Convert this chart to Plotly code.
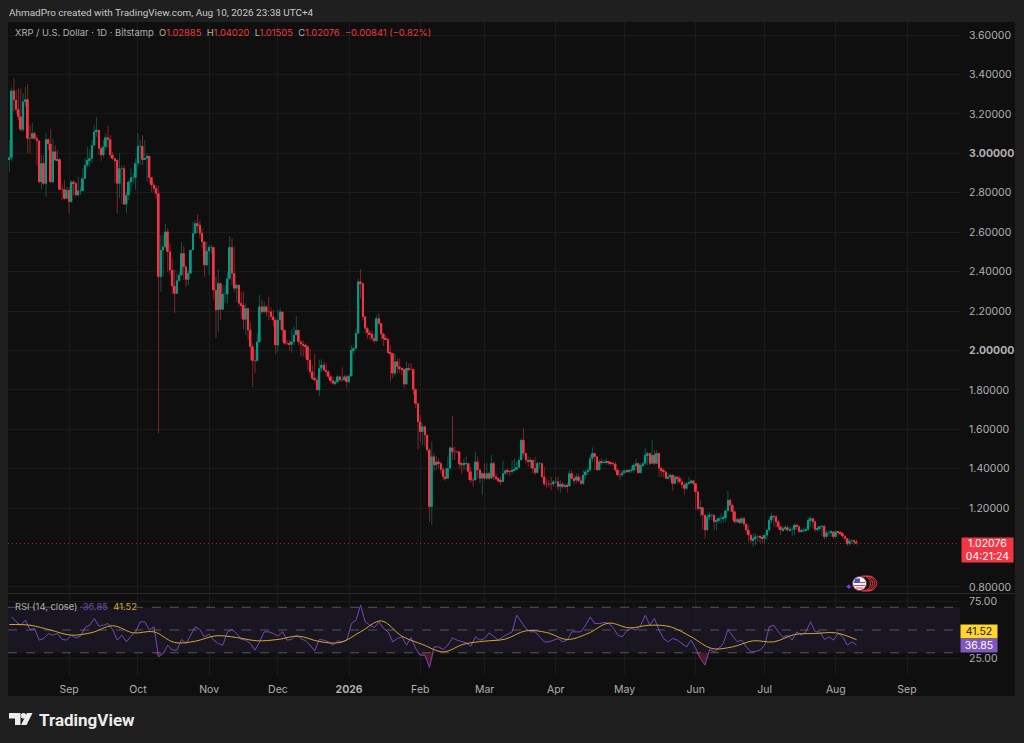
import pandas as pd
import plotly.graph_objects as go

# XRP / USD daily candles (Aug 2025 - Aug 2026)
closes = [
    2.979, 3.317, 3.270, 3.222, 3.185, 3.121, 3.261, 3.273, 3.075, 3.075, 3.101, 3.075, 3.063, 2.855, 2.949, 2.847,
    3.070, 3.047, 2.855, 3.008, 2.965, 2.969, 2.817, 2.817, 2.771, 2.813, 2.754, 2.855, 2.847, 2.788, 2.810, 2.810,
    2.872, 2.940, 2.965, 2.974, 3.041, 3.109, 3.118, 3.025, 2.991, 3.033, 3.080, 3.070, 2.991, 2.974, 2.965, 2.847,
    2.923, 2.923, 2.742, 2.788, 2.855, 2.877, 2.877, 2.949, 3.036, 3.036, 2.969, 2.974, 2.986, 2.877, 2.839, 2.822, 2.796,
    2.374, 2.509, 2.526, 2.602, 2.501, 2.408, 2.327, 2.289, 2.354, 2.382, 2.492, 2.425, 2.360, 2.391, 2.509, 2.594,
    2.644, 2.636, 2.594, 2.551, 2.433, 2.504, 2.523, 2.523, 2.306, 2.205, 2.340, 2.208, 2.286, 2.286, 2.365, 2.523,
    2.391, 2.315, 2.332, 2.239, 2.230, 2.157, 2.213, 2.103, 2.019, 1.948, 1.948, 2.044, 2.222, 2.196, 2.222, 2.196,
    2.196, 2.171, 2.154, 2.027, 2.154, 2.196, 2.103, 2.036, 2.036, 2.030, 2.044, 2.078, 2.103, 2.044, 2.032, 2.027,
    2.019, 1.951, 1.892, 1.858, 1.850, 1.799, 1.909, 1.926, 1.900, 1.892, 1.867, 1.846, 1.833, 1.841, 1.867, 1.850,
    1.850, 1.867, 1.841, 1.870, 2.002, 2.010, 2.086, 2.349, 2.340, 2.171, 2.112, 2.090, 2.083, 2.061, 2.049, 2.162,
    2.137, 2.083, 2.061, 2.056, 1.988, 1.985, 1.884, 1.943, 1.917, 1.909, 1.904, 1.829, 1.909, 1.904, 1.904, 1.802,
    1.731, 1.638, 1.588, 1.613, 1.571, 1.495, 1.207, 1.461,
    1.419, 1.435, 1.427, 1.396, 1.359, 1.351, 1.402, 1.506, 1.486, 1.486, 1.486, 1.424, 1.419, 1.424, 1.427, 1.385,
    1.342, 1.342, 1.435, 1.393, 1.351, 1.376, 1.351, 1.376, 1.351, 1.427, 1.359, 1.351, 1.342, 1.334, 1.376, 1.390,
    1.388, 1.385, 1.393, 1.396, 1.407, 1.444, 1.545, 1.478, 1.444, 1.435, 1.444, 1.402, 1.380, 1.427, 1.427, 1.359,
    1.322, 1.322, 1.322, 1.322, 1.334, 1.334, 1.309, 1.322, 1.309, 1.317, 1.312, 1.376, 1.351, 1.342, 1.359, 1.339,
    1.325, 1.368, 1.384, 1.393, 1.452, 1.478, 1.461, 1.393, 1.435, 1.430, 1.432, 1.435, 1.430, 1.427, 1.424, 1.393,
    1.368, 1.368, 1.379, 1.390, 1.384, 1.390, 1.393, 1.418, 1.427, 1.379, 1.418, 1.427, 1.469, 1.478, 1.427, 1.469,
    1.427, 1.478, 1.402, 1.393, 1.384, 1.351, 1.359, 1.368, 1.325, 1.359, 1.351, 1.334, 1.317, 1.300, 1.325, 1.329,
    1.339, 1.325, 1.283, 1.198, 1.203, 1.165, 1.089, 1.156, 1.165, 1.165, 1.131, 1.139, 1.148, 1.148, 1.150, 1.187,
    1.241, 1.215, 1.182, 1.131, 1.143, 1.126, 1.148, 1.119, 1.089, 1.063, 1.038, 1.046, 1.055, 1.055, 1.051, 1.046,
    1.063, 1.089, 1.139, 1.160, 1.156, 1.131, 1.105, 1.089, 1.097, 1.102, 1.089,
    1.092, 1.092, 1.114, 1.106, 1.080, 1.085, 1.089, 1.092, 1.139, 1.148, 1.131, 1.092, 1.097, 1.106, 1.109, 1.055,
    1.075, 1.075, 1.080, 1.055, 1.080, 1.078, 1.072, 1.058, 1.046, 1.018, 1.034, 1.034, 1.02885, 1.02076,
]
highs = [
    3.067, 3.334, 3.380, 3.321, 3.329, 3.329, 3.304, 3.337, 3.351, 3.143, 3.155, 3.109, 3.092, 3.067, 2.991, 2.991,
    3.101, 3.075, 3.121, 3.075, 3.041, 3.016, 2.974, 2.847, 2.864, 2.830, 2.830, 2.864, 2.864, 2.855, 2.881, 2.830,
    2.923, 2.974, 3.033, 3.016, 3.067, 3.143, 3.185, 3.118, 3.041, 3.067, 3.101, 3.138, 3.092, 3.008, 2.974, 2.969,
    3.000, 2.940, 2.940, 2.805, 2.864, 2.923, 2.898, 2.974, 3.101, 3.067, 3.092, 3.067, 3.000, 2.982, 2.881, 2.855, 2.839,
    2.834, 2.585, 2.585, 2.644, 2.619, 2.543, 2.467, 2.408, 2.391, 2.399, 2.551, 2.529, 2.425, 2.408, 2.509, 2.653,
    2.661, 2.692, 2.661, 2.619, 2.551, 2.551, 2.535, 2.535, 2.523, 2.374, 2.411, 2.343, 2.332, 2.332, 2.399, 2.580,
    2.568, 2.523, 2.340, 2.315, 2.298, 2.298, 2.239, 2.213, 2.146, 2.036, 2.002, 2.086, 2.281, 2.255, 2.247, 2.230,
    2.272, 2.218, 2.205, 2.162, 2.208, 2.213, 2.196, 2.103, 2.053, 2.050, 2.107, 2.120, 2.174, 2.103, 2.053, 2.049,
    2.036, 2.027, 2.010, 1.926, 1.982, 1.867, 1.951, 1.955, 1.943, 1.938, 1.900, 1.875, 1.867, 1.850, 1.875, 1.870,
    1.914, 1.875, 1.875, 1.880, 2.027, 2.019, 2.112, 2.365, 2.413, 2.306, 2.162, 2.120, 2.103, 2.103, 2.086, 2.179,
    2.188, 2.137, 2.090, 2.078, 2.061, 2.027, 1.985, 1.985, 1.960, 1.960, 1.914, 1.909, 1.943, 1.934, 1.934, 1.909,
    1.807, 1.731, 1.672, 1.630, 1.621, 1.571, 1.506, 1.537,
    1.481, 1.461, 1.452, 1.435, 1.410, 1.402, 1.461, 1.515, 1.667, 1.512, 1.491, 1.486, 1.435, 1.452, 1.461, 1.427,
    1.410, 1.359, 1.486, 1.461, 1.402, 1.385, 1.427, 1.427, 1.385, 1.469, 1.435, 1.376, 1.359, 1.359, 1.440, 1.396,
    1.400, 1.393, 1.444, 1.452, 1.435, 1.461, 1.554, 1.605, 1.478, 1.461, 1.457, 1.444, 1.461, 1.435, 1.435, 1.419,
    1.410, 1.351, 1.342, 1.359, 1.342, 1.359, 1.359, 1.342, 1.334, 1.325, 1.329, 1.393, 1.393, 1.368, 1.376, 1.376,
    1.359, 1.393, 1.393, 1.410, 1.469, 1.508, 1.478, 1.444, 1.447, 1.452, 1.444, 1.452, 1.440, 1.435, 1.435, 1.435,
    1.402, 1.393, 1.393, 1.396, 1.396, 1.402, 1.413, 1.427, 1.452, 1.427, 1.427, 1.435, 1.503, 1.486, 1.481, 1.545,
    1.494, 1.494, 1.427, 1.410, 1.402, 1.384, 1.376, 1.376, 1.373, 1.368, 1.359, 1.363, 1.351, 1.334, 1.334, 1.359,
    1.346, 1.342, 1.325, 1.283, 1.244, 1.207, 1.165, 1.173, 1.182, 1.173, 1.165, 1.148, 1.153, 1.173, 1.165, 1.190,
    1.288, 1.249, 1.224, 1.190, 1.153, 1.148, 1.156, 1.156, 1.122, 1.114, 1.072, 1.072, 1.072, 1.063, 1.063, 1.063,
    1.072, 1.097, 1.156, 1.177, 1.165, 1.165, 1.139, 1.114, 1.109, 1.114, 1.114,
    1.106, 1.106, 1.122, 1.122, 1.114, 1.097, 1.102, 1.106, 1.156, 1.160, 1.148, 1.139, 1.109, 1.114, 1.114, 1.114,
    1.085, 1.089, 1.089, 1.080, 1.089, 1.085, 1.082, 1.078, 1.063, 1.046, 1.046, 1.045, 1.038, 1.0402,
]
lows = [
    2.906, 2.962, 3.211, 3.202, 3.168, 3.109, 3.109, 3.236, 3.000, 3.000, 3.072, 3.067, 2.940, 2.847, 2.817, 2.839,
    2.779, 3.016, 2.847, 2.847, 2.962, 2.957, 2.813, 2.762, 2.762, 2.793, 2.695, 2.749, 2.788, 2.779, 2.783, 2.788,
    2.805, 2.872, 2.928, 2.932, 2.949, 3.033, 3.084, 2.991, 2.962, 2.979, 3.016, 3.025, 2.974, 2.965, 2.847, 2.695,
    2.771, 2.742, 2.737, 2.695, 2.762, 2.805, 2.847, 2.813, 2.932, 2.940, 2.940, 2.965, 2.855, 2.847, 2.805, 2.796, 2.771,
    1.579, 2.298, 2.374, 2.518, 2.399, 2.382, 2.286, 2.188, 2.315, 2.349, 2.374, 2.357, 2.323, 2.332, 2.391, 2.509,
    2.594, 2.594, 2.568, 2.518, 2.374, 2.425, 2.382, 2.492, 2.259, 2.064, 2.095, 2.154, 2.247, 2.239, 2.239, 2.357,
    2.332, 2.298, 2.247, 2.222, 2.162, 2.107, 2.078, 2.053, 1.951, 1.816, 1.883, 1.943, 2.036, 2.184, 2.188, 2.171,
    2.154, 2.154, 2.120, 1.982, 1.993, 2.103, 2.044, 2.027, 2.027, 2.000, 1.988, 2.027, 2.078, 2.027, 1.971, 1.968,
    1.960, 1.900, 1.875, 1.850, 1.841, 1.799, 1.769, 1.892, 1.892, 1.867, 1.853, 1.833, 1.824, 1.821, 1.833, 1.841,
    1.841, 1.846, 1.807, 1.833, 1.867, 1.982, 2.010, 2.086, 2.264, 2.154, 2.086, 2.061, 2.053, 2.044, 2.036, 2.044,
    2.129, 2.053, 2.022, 2.053, 1.982, 1.841, 1.858, 1.867, 1.884, 1.884, 1.875, 1.807, 1.828, 1.892, 1.900, 1.774,
    1.706, 1.498, 1.537, 1.520, 1.512, 1.486, 1.131, 1.114,
    1.385, 1.393, 1.402, 1.376, 1.342, 1.339, 1.359, 1.402, 1.444, 1.444, 1.478, 1.402, 1.376, 1.393, 1.393, 1.342,
    1.329, 1.309, 1.342, 1.351, 1.329, 1.266, 1.342, 1.342, 1.342, 1.351, 1.342, 1.342, 1.329, 1.317, 1.351, 1.368,
    1.370, 1.363, 1.376, 1.385, 1.393, 1.402, 1.444, 1.461, 1.427, 1.410, 1.402, 1.376, 1.368, 1.376, 1.402, 1.351,
    1.312, 1.300, 1.305, 1.292, 1.309, 1.322, 1.292, 1.278, 1.300, 1.300, 1.278, 1.309, 1.342, 1.322, 1.325, 1.329,
    1.317, 1.317, 1.351, 1.368, 1.384, 1.435, 1.393, 1.390, 1.393, 1.418, 1.427, 1.418, 1.418, 1.415, 1.417, 1.384,
    1.359, 1.342, 1.359, 1.376, 1.379, 1.379, 1.379, 1.379, 1.393, 1.373, 1.376, 1.410, 1.418, 1.418, 1.418, 1.423,
    1.418, 1.423, 1.359, 1.356, 1.356, 1.346, 1.346, 1.342, 1.288, 1.325, 1.325, 1.325, 1.300, 1.266, 1.291, 1.317,
    1.322, 1.317, 1.190, 1.187, 1.156, 1.089, 1.046, 1.085, 1.139, 1.139, 1.089, 1.089, 1.122, 1.122, 1.125, 1.131,
    1.182, 1.182, 1.139, 1.122, 1.122, 1.119, 1.119, 1.105, 1.072, 1.029, 1.021, 1.004, 1.012, 1.029, 1.024, 1.021,
    1.021, 1.041, 1.080, 1.122, 1.105, 1.102, 1.089, 1.063, 1.080, 1.085, 1.080,
    1.080, 1.058, 1.063, 1.089, 1.075, 1.075, 1.077, 1.080, 1.085, 1.106, 1.097, 1.080, 1.080, 1.089, 1.058, 1.041,
    1.046, 1.058, 1.055, 1.043, 1.051, 1.063, 1.063, 1.046, 1.029, 1.007, 1.011, 1.018, 1.014, 1.01505,
]
first_open = 2.970

# RSI (14) read every second candle, counted back from the last one
rsi = [
    61.5, 57.2, 54.2, 58.6, 50.4, 51.3, 41.1, 42.5, 46.9, 45.5, 46.9, 41.7, 41.1, 45.5, 43.1, 44.6, 52.2, 54.2, 60.1,
    53.4, 54.2, 55.7, 50.4, 41.1, 45.5, 39.6, 44.6, 48.4, 57.2, 57.2, 49.9, 52.8, 26.5, 29.4, 36.7, 32.3, 32.3, 41.7,
    38.2, 45.5, 52.8, 50.4, 44.0, 46.3, 41.1, 38.2, 36.7, 48.4, 50.4, 46.9, 41.7, 41.1, 38.2, 32.3, 39.6, 48.4, 48.4,
    46.9, 44.6, 48.4, 41.1, 41.7, 45.5, 42.5, 40.5, 36.7, 31.7, 41.7, 41.1, 39.6, 36.7, 40.5, 39.6, 41.1, 55.7, 58.6,
    71.8, 57.2, 54.2, 52.2, 57.2, 51.3, 48.4, 39.6, 42.5, 44.0, 36.7, 43.4, 33.8, 27.9, 27.9, 17.1, 35.2, 35.2, 32.9,
    36.7, 43.1, 41.1, 39.6, 38.7, 35.8, 44.0, 41.1, 42.5, 47.5, 44.0, 41.1,
    44.0, 46.3, 48.4, 63.0, 57.2, 51.3, 48.4, 48.4, 44.0, 39.6, 39.6, 41.1, 42.5, 39.6, 41.1, 48.4, 48.4, 48.4, 54.2,
    61.5, 55.7, 55.7, 56.6, 55.7, 52.2, 45.5, 44.0, 49.3, 51.3, 49.9, 54.2, 63.0, 54.2, 60.1, 49.9, 42.5, 39.6, 42.5,
    41.1, 38.2, 35.2, 41.1, 33.8, 25.0, 19.2, 32.9, 30.8, 33.8, 38.2, 50.4, 45.5, 39.6, 41.1, 35.2, 30.8, 31.2, 32.3,
    36.7, 52.8, 54.2, 48.4, 43.4, 45.5, 41.1, 48.4, 45.5, 48.4, 57.2, 48.4, 48.4, 41.7, 44.0, 41.1, 46.9, 44.0, 36.7,
    39.6, 36.85,
]
# RSI moving average read every ninth candle
rsi_ma = [
    54.8, 54.2, 49.9, 45.5, 47.8, 53.7, 47.5, 48.4, 39.0, 40.2, 44.9, 43.4, 40.5, 41.7, 44.6, 39.9, 39.0, 48.4, 58.0,
    44.6, 37.3, 30.8, 37.6, 40.2, 42.0, 49.3, 47.8, 41.7, 46.9, 56.0, 51.9, 54.2, 52.8, 44.0, 33.8, 35.2, 40.5, 39.6,
    46.0, 46.9, 47.5, 41.52,
]

price_ticks = [3.6, 3.4, 3.2, 3.0, 2.8, 2.6, 2.4, 2.2, 2.0, 1.8, 1.6, 1.4, 1.2, 0.8]
price_labels = ["3.60000", "3.40000", "3.20000", "<b>3.00000</b>", "2.80000", "2.60000", "2.40000", "2.20000",
                "<b>2.00000</b>", "1.80000", "1.60000", "1.40000", "1.20000", "0.80000"]
month_ticks = ["2025-09-01", "2025-10-01", "2025-11-01", "2025-12-01", "2026-01-01", "2026-02-01", "2026-03-01",
               "2026-04-01", "2026-05-01", "2026-06-01", "2026-07-01", "2026-08-01", "2026-09-01"]
month_labels = ["Sep", "Oct", "Nov", "Dec", "<b>2026</b>", "Feb", "Mar", "Apr", "May", "Jun", "Jul", "Aug", "Sep"]

W, H = 1024, 743
FONT = "Inter, Roboto, sans-serif"
UP = "#089981"
DOWN = "#f23645"
PURPLE = "#7248bd"
YELLOW = "#d1a92a"
GRID = "#1b1b1b"
TEXT = "#b0b0b0"
DAY_MS = 86400000


def px(x):
    return x / W


def py(y):
    return 1 - y / H


def label(x, y, text, size=10, color=TEXT, **kw):
    return dict(xref="paper", yref="paper", x=px(x), y=py(y), text=text, showarrow=False,
                xanchor=kw.pop("xanchor", "left"), yanchor=kw.pop("yanchor", "middle"),
                font=dict(family=kw.pop("family", FONT), size=size, color=color), **kw)


def box(x0, y0, x1, y1, fill, line=None):
    return dict(type="rect", xref="paper", yref="paper", x0=px(x0), x1=px(x1), y0=py(y0), y1=py(y1),
                fillcolor=fill, line=dict(width=0 if line is None else 1, color=line or fill), layer="below")


def ring(cx, cy, r, fill, line):
    return dict(type="circle", xref="paper", yref="paper", x0=px(cx - r), x1=px(cx + r), y0=py(cy - r), y1=py(cy + r),
                fillcolor=fill, line=dict(width=1, color=line))


def path(points, fill):
    d = "M " + " L ".join(f"{px(a):.5f},{py(b):.5f}" for a, b in points) + " Z"
    return dict(type="path", xref="paper", yref="paper", path=d, fillcolor=fill, line=dict(width=0))


dates = pd.date_range(end="2026-08-10", periods=len(closes), freq="D")
opens = [first_open] + closes[:-1]  # the market never closes, each day opens at the previous close
rsi_dates = dates[::-2][::-1]
ma_dates = dates[::-9][::-1]
rsi_low = [min(v, 30) for v in rsi]
body_base = [min(o, c) for o, c in zip(opens, closes)]
body_size = [abs(c - o) for o, c in zip(opens, closes)]
body_color = [UP if c >= o else DOWN for o, c in zip(opens, closes)]

fig = go.Figure()
# wicks come from the candlestick in a dim colour, solid bodies go on top as bars
fig.add_trace(go.Candlestick(
    x=dates, open=opens, high=highs, low=lows, close=closes,
    increasing=dict(line=dict(color="rgba(8,153,129,0.5)", width=1), fillcolor="rgba(8,153,129,0.5)"),
    decreasing=dict(line=dict(color="rgba(242,54,69,0.5)", width=1), fillcolor="rgba(242,54,69,0.5)"),
    showlegend=False, hoverinfo="skip", xaxis="x", yaxis="y",
))
fig.add_trace(go.Bar(x=dates, y=body_size, base=body_base, width=0.75 * DAY_MS, marker=dict(color=body_color, line=dict(width=0)),
                     showlegend=False, hoverinfo="skip", xaxis="x", yaxis="y"))
# red tint where RSI sits below 30
fig.add_trace(go.Scatter(x=rsi_dates, y=[30] * len(rsi), mode="lines", line=dict(width=0),
                         showlegend=False, hoverinfo="skip", xaxis="x2", yaxis="y2"))
fig.add_trace(go.Scatter(x=rsi_dates, y=rsi_low, mode="lines", line=dict(width=0), fill="tonexty",
                         fillcolor="rgba(242,54,69,0.28)", showlegend=False, hoverinfo="skip", xaxis="x2", yaxis="y2"))
fig.add_trace(go.Scatter(x=rsi_dates, y=rsi, mode="lines", line=dict(color=PURPLE, width=1),
                         showlegend=False, hoverinfo="skip", xaxis="x2", yaxis="y2"))
fig.add_trace(go.Scatter(x=ma_dates, y=rsi_ma, mode="lines", line=dict(color=YELLOW, width=1, shape="spline"),
                         showlegend=False, hoverinfo="skip", xaxis="x2", yaxis="y2"))

x_range = ["2025-08-05 10:00", "2026-09-24 02:00"]
x_common = dict(type="date", range=x_range, tickmode="array", tickvals=month_ticks, showgrid=True, gridcolor=GRID,
                gridwidth=1, zeroline=False, showline=False, rangeslider=dict(visible=False))
shapes = [
    box(8, 22, 1015, 696, "#0f0f0f"),
    # RSI band and its guide levels
    dict(type="rect", xref="x2 domain", yref="y2", x0=0, x1=1, y0=30, y1=70, fillcolor="rgba(126,87,194,0.10)",
         line=dict(width=0), layer="below"),
    # last price
    dict(type="line", xref="x domain", yref="y", x0=0, x1=1, y0=closes[-1], y1=closes[-1],
         line=dict(color="#8f2c36", width=1, dash="1px,3px")),
    # pane separator
    dict(type="line", xref="paper", yref="paper", x0=px(8), x1=px(1015), y0=py(593.5), y1=py(593.5),
         line=dict(color="#2b2b2b", width=1)),
]
for level in (70, 50, 30):
    shapes.append(dict(type="line", xref="x2 domain", yref="y2", x0=0, x1=1, y0=level, y1=level,
                       line=dict(color="rgba(150,150,160,0.5)", width=1, dash="dash")))

# earnings marker next to the last candle
for cx in (869, 867, 865, 863):
    shapes.append(ring(cx, 583.5, 7.5, "rgba(15,15,15,0.4)", "#f23645"))
shapes.append(ring(859.5, 583.5, 7, "#f4f4f4", "#7e2a50"))
shapes.append(path([(855, 582), (865, 582), (865, 583), (855, 583)], "#e0474c"))
shapes.append(path([(854, 585), (865, 585), (865, 586), (854, 586)], "#e0474c"))
shapes.append(path([(856, 587.5), (863, 587.5), (863, 588.5), (856, 588.5)], "#e0474c"))
shapes.append(path([(855, 578.5), (860, 578.5), (860, 583), (854, 583)], "#3d5fb0"))

# TradingView logo
shapes.append(path([(9, 713), (20.5, 713), (20.5, 725), (15, 725), (15, 718.5), (9, 718.5)], "#ececec"))
shapes.append(ring(23.5, 715.8, 2.4, "#ececec", "#ececec"))
shapes.append(path([(27, 713), (32.5, 713), (26.5, 725), (21, 725)], "#ececec"))

annotations = [
    label(6.5, 12, "AhmadPro created with TradingView.com, Aug 10, 2026 23:38 UTC+4", size=9.95, color="#c9c9c9",
          family="Roboto, sans-serif"),
    label(12.5, 33, "XRP / U.S. Dollar · 1D · Bitstamp&nbsp;&nbsp;"
                    f"O<span style='color:{DOWN}'>1.02885</span>&nbsp;&nbsp;"
                    f"H<span style='color:{DOWN}'>1.04020</span>&nbsp;&nbsp;"
                    f"L<span style='color:{DOWN}'>1.01505</span>&nbsp;&nbsp;"
                    f"C<span style='color:{DOWN}'>1.02076</span>&nbsp;&nbsp;"
                    f"<span style='color:{DOWN}'>−0.00841 (−0.82%)</span>", size=9.4),
    label(12.5, 606, f"RSI (14, close)&nbsp;&nbsp;<span style='color:{PURPLE}'>36.85</span>&nbsp;&nbsp;"
                     f"<span style='color:{YELLOW}'>41.52</span>", size=9.4),
    label(961, 549.5, "1.02076<br>04:21:24", size=10.5, color="#ffffff", bgcolor=DOWN, width=51, height=24,
          align="center", borderpad=0),
    label(960, 631.5, "41.52", size=10.5, color="#131722", bgcolor="#ffd52e", width=36, height=13, align="center",
          borderpad=0),
    label(960, 645, "36.85", size=10.5, color="#ffffff", bgcolor="#7e57c2", width=36, height=13, align="center",
          borderpad=0),
    label(849, 586, "✦", size=9, color="#7e3ff2", xanchor="center"),
    label(36.5, 719.5, "<b>TradingView</b>", size=17, color="#ececec", family="Roboto, sans-serif"),
]

fig.update_layout(
    width=W, height=H, margin=dict(l=0, r=0, t=0, b=0),
    paper_bgcolor="#1f1f1f", plot_bgcolor="rgba(0,0,0,0)",
    font=dict(family=FONT, size=10.5, color=TEXT), showlegend=False, hovermode=False,
    shapes=shapes, annotations=annotations, barmode="overlay",
    xaxis=dict(domain=[px(8), px(960)], anchor="y", showticklabels=False, ticks="", **x_common),
    xaxis2=dict(domain=[px(8), px(960)], anchor="y2", ticktext=month_labels, ticks="outside", ticklen=4,
                tickcolor="rgba(0,0,0,0)", tickfont=dict(size=10.5, color=TEXT), **x_common),
    yaxis=dict(domain=[py(593), py(22)], anchor="x", side="right", range=[0.7695, 3.666], tickmode="array",
               tickvals=price_ticks, ticktext=price_labels, showgrid=True, gridcolor=GRID, zeroline=False,
               ticks="outside", ticklen=6, tickcolor="rgba(0,0,0,0)", tickfont=dict(size=10.5, color=TEXT)),
    yaxis2=dict(domain=[py(675), py(594)], anchor="x2", side="right", range=[10.5, 81.6], tickmode="array",
                tickvals=[25, 75], ticktext=["25.00", "75.00"], showgrid=True, gridcolor=GRID, zeroline=False,
                ticks="outside", ticklen=6, tickcolor="rgba(0,0,0,0)", tickfont=dict(size=10.5, color=TEXT)),
)

fig.write_html("out.html", config={"displayModeBar": False}, post_script="document.body.style.margin='0';")
